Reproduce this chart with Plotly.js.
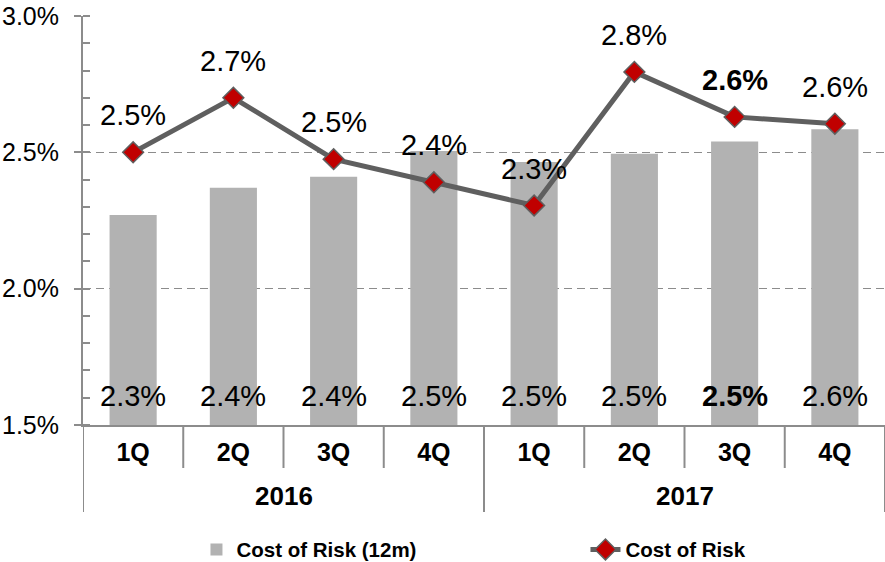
<!DOCTYPE html>
<html><head><meta charset="utf-8">
<script src="https://cdn.plot.ly/plotly-3.0.1.min.js"></script>
<style>html,body{margin:0;padding:0;background:#fff}#chart{width:885px;height:562px}</style>
</head><body><div id="chart"></div>
<script>
const years = ['2016','2016','2016','2016','2017','2017','2017','2017'];
const quarters = ['1Q','2Q','3Q','4Q','1Q','2Q','3Q','4Q'];
const costOfRisk12m = [2.27, 2.37, 2.41, 2.505, 2.465, 2.495, 2.54, 2.585];
const costOfRisk = [2.50, 2.70, 2.475, 2.39, 2.305, 2.795, 2.63, 2.605];
const barLabels = ['2.3%','2.4%','2.4%','2.5%','2.5%','2.5%','2.5%','2.6%'];
const lineLabels = ['2.5%','2.7%','2.5%','2.4%','2.3%','2.8%','2.6%','2.6%'];
const barBold = [false,false,false,false,false,false,true,false];
const lineBold = [false,false,false,false,false,false,true,false];
const seriesNames = ['Cost of Risk (12m)','Cost of Risk'];
const yMin = 1.5, yMax = 3.0;

const FONT = 'Liberation Sans, Arial, sans-serif';
const AX = '#8c8c8c';
const cats = quarters.map((q,i)=>years[i]+' '+q);
const n = cats.length;

const traces = [
  {type:'bar', name:seriesNames[0], x:cats, y:costOfRisk12m, width:0.47,
   marker:{color:'#b2b2b2'}, hoverinfo:'skip'},
  {type:'scatter', mode:'lines+markers', name:seriesNames[1], x:cats, y:costOfRisk,
   line:{color:'#5f5f5f', width:5},
   marker:{symbol:'diamond', size:16, color:'#c00000', line:{color:'#5f5f5f', width:1.5}},
   hoverinfo:'skip'}
];

const annotations = [];
const shapes = [];
for (let i=0;i<n;i++){
  annotations.push({x:i, y:costOfRisk[i], xref:'x', yref:'y', showarrow:false,
    text: lineBold[i] ? '<b>'+lineLabels[i]+'</b>' : lineLabels[i],
    yanchor:'bottom', yshift:19, font:{family:FONT, size:29, color:'#000'}});
  annotations.push({x:i, y:yMin, xref:'x', yref:'y', showarrow:false,
    text: barBold[i] ? '<b>'+barLabels[i]+'</b>' : barLabels[i],
    yanchor:'bottom', yshift:11, font:{family:FONT, size:29, color:'#000'}});
}
// year group labels
const groups = [];
years.forEach((y,i)=>{
  if (!groups.length || groups[groups.length-1].y!==y) groups.push({y:y, s:i, e:i});
  else groups[groups.length-1].e = i;
});
groups.forEach(g=>{
  annotations.push({x:(g.s+g.e)/2, y:0, xref:'x', yref:'paper', showarrow:false,
    text:'<b>'+g.y+'</b>', yanchor:'middle', yshift:-71,
    font:{family:FONT, size:26, color:'#000'}});
});
// dividers
for (let i=0;i<=n;i++){
  const isYear = (i===0 || i===n || years[i]!==years[i-1]);
  shapes.push({type:'line', xref:'x', yref:'paper', ysizemode:'pixel', yanchor:0,
    x0:i-0.5, x1:i-0.5, y0:0, y1:isYear?-87:-43,
    line:{color:AX, width:2}});
}

const layout = {
  width:885, height:562,
  margin:{l:83, r:0, t:16, b:137},
  paper_bgcolor:'#fff', plot_bgcolor:'#fff',
  font:{family:FONT, color:'#000'},
  xaxis:{type:'category', range:[-0.5, n-0.5], tickmode:'array', tickvals:cats, ticktext:quarters,
    ticks:'', showline:true, linecolor:AX, linewidth:2, showgrid:false,
    tickfont:{family:FONT, size:25, color:'#000', weight:'bold'}, ticklabelstandoff:4, fixedrange:true},
  yaxis:{range:[yMin, yMax], tickmode:'linear', tick0:yMin, dtick:0.5, tickformat:'.1f', ticksuffix:'%',
    ticks:'outside', ticklen:7, tickwidth:2, tickcolor:AX, ticklabelstandoff:10,
    showline:true, linecolor:AX, linewidth:2,
    showgrid:true, gridcolor:AX, gridwidth:1.5, griddash:'8px,5px', zeroline:false,
    tickfont:{family:FONT, size:25, color:'#000'},
    minor:{tickmode:'linear', tick0:yMin, dtick:0.1, ticks:'inside', ticklen:7, tickwidth:2, tickcolor:AX, showgrid:false},
    fixedrange:true},
  showlegend:true,
  legend:{orientation:'h', xref:'container', x:0.222, xanchor:'left', yref:'container', y:0.022, yanchor:'middle',
    entrywidth:344, entrywidthmode:'pixels', itemwidth:30,
    font:{family:FONT, size:20.5, color:'#000', weight:'bold'}, bgcolor:'rgba(0,0,0,0)'},
  annotations:annotations,
  shapes:shapes
};
Plotly.newPlot('chart', traces, layout, {displayModeBar:false, staticPlot:true});
</script></body></html>
